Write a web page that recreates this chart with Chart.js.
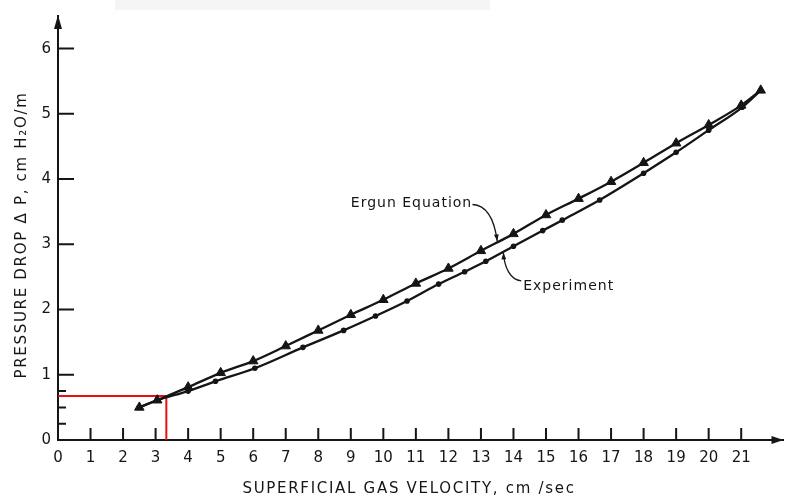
<!DOCTYPE html>
<html>
<head>
<meta charset="utf-8">
<script src="https://cdn.jsdelivr.net/npm/chart.js@4.4.0/dist/chart.umd.min.js"></script>
<style>
  html, body { margin: 0; padding: 0; background: #fff; }
  #wrap { width: 790px; height: 500px; position: relative; }
</style>
</head>
<body>
<div id="wrap"><canvas id="chart"></canvas></div>
<script>
// values
const ergunX = [2.5, 3.05, 4, 5, 6, 7, 8, 9, 10, 11, 12, 13, 14, 15, 16, 17, 18, 19, 20, 21, 21.6]
const ergunY = [0.50, 0.61, 0.81, 1.03, 1.21, 1.44, 1.68, 1.92, 2.15, 2.40, 2.63, 2.90, 3.16, 3.45, 3.70, 3.96, 4.25, 4.55, 4.83, 5.13, 5.36]

const exptX = [2.5, 3.05, 4, 4.84, 6.05, 7.53, 8.78, 9.76, 10.73, 11.7, 12.5, 13.15, 14.0, 14.9, 15.5, 16.65, 18.0, 19.0, 20.0, 21.03, 21.6]
const exptY = [0.50, 0.61, 0.75, 0.90, 1.10, 1.42, 1.68, 1.90, 2.13, 2.39, 2.58, 2.74, 2.97, 3.21, 3.37, 3.68, 4.09, 4.41, 4.75, 5.10, 5.36]

// red guide lines
const guideX = [0, 3.33, 3.33]
const guideY = [0.675, 0.675, 0]

const xTicks = [0, 1, 2, 3, 4, 5, 6, 7, 8, 9, 10, 11, 12, 13, 14, 15, 16, 17, 18, 19, 20, 21]
const yTicks = [0, 1, 2, 3, 4, 5, 6]
const yMinorTicks = [0.25, 0.5, 0.75]

const xTitle = 'SUPERFICIAL GAS VELOCITY, cm /sec'
const yTitle = 'PRESSURE DROP \u0394 P, cm H\u2082O/m'

const INK = '#151515'
const FONT = '"DejaVu Sans", sans-serif'

const toPoints = (xs, ys) => xs.map((x, i) => ({ x: x, y: ys[i] }))

// ticks, arrows, titles and the two callouts
const decorations = {
  id: 'decorations',
  beforeDraw(chart) {
    const ctx = chart.ctx
    ctx.save()
    ctx.fillStyle = '#f5f5f5' // faint scan shadow at the top
    ctx.fillRect(115, 0, 375, 10)
    ctx.restore()
  },
  afterDraw(chart) {
    const { ctx, chartArea: a } = chart
    const xs = chart.scales.x
    const ys = chart.scales.y
    ctx.save()
    ctx.strokeStyle = INK
    ctx.fillStyle = INK
    ctx.lineWidth = 2

    // inward tick marks
    ctx.beginPath()
    xTicks.forEach(v => {
      if (v === 0) return
      const px = xs.getPixelForValue(v)
      ctx.moveTo(px, a.bottom)
      ctx.lineTo(px, a.bottom - 12)
    })
    yTicks.forEach(v => {
      if (v === 0) return
      const py = ys.getPixelForValue(v)
      ctx.moveTo(a.left, py)
      ctx.lineTo(a.left + 16, py)
    })
    yMinorTicks.forEach(v => {
      const py = ys.getPixelForValue(v)
      ctx.moveTo(a.left, py)
      ctx.lineTo(a.left + 8, py)
    })
    ctx.stroke()

    // axis arrows
    ctx.beginPath()
    ctx.moveTo(a.left, a.top - 1)
    ctx.lineTo(a.left - 4, a.top + 13)
    ctx.lineTo(a.left + 4, a.top + 13)
    ctx.closePath()
    ctx.moveTo(a.right, a.bottom)
    ctx.lineTo(a.right - 12, a.bottom - 4)
    ctx.lineTo(a.right - 12, a.bottom + 4)
    ctx.closePath()
    ctx.fill()

    // axis titles
    ctx.font = '15px ' + FONT
    ctx.letterSpacing = '1.7px'
    ctx.textAlign = 'center'
    ctx.textBaseline = 'middle'
    ctx.fillText(xTitle, 409, 489)
    ctx.save()
    ctx.translate(22, 235)
    ctx.rotate(-Math.PI / 2)
    ctx.fillText(yTitle, 0, 0)
    ctx.restore()

    // callouts, placed in data units
    const P = (x, y) => [xs.getPixelForValue(x), ys.getPixelForValue(y)]
    ctx.font = '14px ' + FONT
    ctx.letterSpacing = '1px'
    ctx.textAlign = 'left'
    let [tx, ty] = P(9.0, 3.63)
    ctx.fillText('Ergun Equation', tx, ty)
    ;[tx, ty] = P(14.3, 2.36)
    ctx.fillText('Experiment', tx, ty)

    ctx.lineWidth = 1.3
    const leader = pts => {
      const [s, c1, c2, e] = pts.map(p => P(p[0], p[1]))
      ctx.beginPath()
      ctx.moveTo(s[0], s[1])
      ctx.bezierCurveTo(c1[0], c1[1], c2[0], c2[1], e[0], e[1])
      ctx.stroke()
      const ang = Math.atan2(e[1] - c2[1], e[0] - c2[0])
      ctx.beginPath()
      ctx.moveTo(e[0], e[1])
      ctx.lineTo(e[0] - 7 * Math.cos(ang - 0.35), e[1] - 7 * Math.sin(ang - 0.35))
      ctx.lineTo(e[0] - 7 * Math.cos(ang + 0.35), e[1] - 7 * Math.sin(ang + 0.35))
      ctx.closePath()
      ctx.fill()
    }
    leader([[12.74, 3.61], [13.2, 3.6], [13.42, 3.35], [13.5, 3.05]])
    leader([[14.24, 2.44], [13.9, 2.45], [13.72, 2.65], [13.69, 2.87]])

    ctx.restore()
  }
}

new Chart(document.getElementById('chart'), {
  type: 'scatter',
  data: {
    datasets: [
      {
        label: 'Ergun Equation',
        data: toPoints(ergunX, ergunY),
        showLine: true,
        borderColor: INK,
        backgroundColor: INK,
        borderWidth: 2.3,
        cubicInterpolationMode: 'monotone',
        pointStyle: 'triangle',
        pointRadius: 5.5,
        pointBorderWidth: 1
      },
      {
        label: 'Experiment',
        data: toPoints(exptX, exptY),
        showLine: true,
        borderColor: INK,
        backgroundColor: INK,
        borderWidth: 2.3,
        cubicInterpolationMode: 'monotone',
        pointStyle: 'circle',
        pointRadius: c => (c.dataIndex === exptX.length - 1 ? 0 : 2.8),
        pointBorderWidth: 0
      },
      {
        label: 'guide',
        data: toPoints(guideX, guideY),
        showLine: true,
        borderColor: '#e8120c',
        borderWidth: 2,
        pointRadius: 0,
        tension: 0
      }
    ]
  },
  options: {
    responsive: true,
    maintainAspectRatio: false,
    animation: false,
    layout: { padding: { top: 13, right: 0, left: 0, bottom: 0 } },
    plugins: {
      legend: { display: false },
      tooltip: { enabled: false }
    },
    scales: {
      x: {
        type: 'linear',
        min: 0,
        max: 22.3,
        afterFit: s => { s.height = 60 },
        afterBuildTicks: s => { s.ticks = xTicks.map(v => ({ value: v })) },
        grid: { display: false, drawTicks: false },
        border: { display: true, color: INK, width: 2 },
        ticks: { color: INK, padding: 9, maxRotation: 0, autoSkip: false, font: { family: FONT, size: 15 } }
      },
      y: {
        type: 'linear',
        min: 0,
        max: 6.5,
        afterFit: s => { s.width = 58 },
        afterBuildTicks: s => { s.ticks = yTicks.map(v => ({ value: v })) },
        grid: { display: false, drawTicks: false },
        border: { display: true, color: INK, width: 2 },
        ticks: { color: INK, padding: 7, font: { family: FONT, size: 15 } }
      }
    }
  },
  plugins: [decorations]
})
</script>
</body>
</html>
